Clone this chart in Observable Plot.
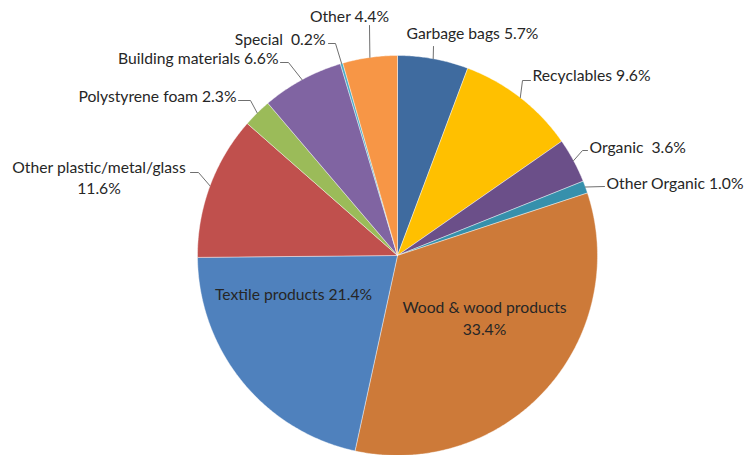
<!DOCTYPE html>
<html>
<head>
<meta charset="utf-8">
<script src="https://cdn.jsdelivr.net/npm/d3@7"></script>
<script src="https://cdn.jsdelivr.net/npm/@observablehq/plot@0.6"></script>
<style>
  html, body { margin: 0; padding: 0; background: #ffffff; }
  #chart svg { display: block; }
</style>
</head>
<body>
<div id="chart"></div>
<script>
// ---- Data ----
const categories = ["Garbage bags", "Recyclables", "Organic", "Other Organic", "Wood & wood products",
  "Textile products", "Other plastic/metal/glass", "Polystyrene foam", "Building materials", "Special", "Other"];
const shares = [5.7, 9.6, 3.6, 1.0, 33.4, 21.4, 11.6, 2.3, 6.6, 0.2, 4.4];
const labelSeparators = [" ", " ", "  ", " ", "\n", " ", "\n", " ", " ", "  ", " "];

// ---- Styles ----
const colors = ["#3F6B9F", "#FFC000", "#6B4F89", "#3690AC", "#CD7A39",
  "#4F81BD", "#C0504D", "#9BBB59", "#8064A2", "#4BACC6", "#F79646"];

// ---- Layout (pixels): label anchor, text alignment, leader elbows ----
const W = 745, H = 455, CX = 397, CY = 255, R = 200;
const labelLayout = [
  {tx: 406, ty: 32, anchor: "start", leader: [[433, 46]]},
  {tx: 532, ty: 74, anchor: "start", leader: [[522, 80], [530, 80]]},
  {tx: 589, ty: 146, anchor: "start", leader: [[582, 150], [587, 150]]},
  {tx: 606, ty: 182, anchor: "start", leader: [[604, 186]]},
  {tx: 484, ty: 316.5, anchor: "middle", leader: null},
  {tx: 293, ty: 293, anchor: "middle", leader: null},
  {tx: 98.5, ty: 176, anchor: "middle", leader: [[198, 172], [190, 172]]},
  {tx: 236, ty: 95, anchor: "end", leader: [[250, 100], [238, 100]]},
  {tx: 278, ty: 57, anchor: "end", leader: [[288, 62], [280, 62]]},
  {tx: 325, ty: 38, anchor: "end", leader: [[335, 43], [328, 43]]},
  {tx: 349, ty: 15, anchor: "middle", leader: [[369, 25]]}
];

// pixel -> data units (unit circle)
const toX = px => (px - CX) / R;
const toY = py => (CY - py) / R;

// ---- Pie geometry ----
const arcs = d3.pie().sort(null).value(d => d)(shares);
const slicePts = [];
arcs.forEach((a, i) => {
  const cat = categories[i];
  slicePts.push({cat, x: 0, y: 0});
  const n = Math.max(2, Math.ceil((a.endAngle - a.startAngle) / (Math.PI / 360)));
  for (let k = 0; k <= n; k++) {
    const t = a.startAngle + (a.endAngle - a.startAngle) * k / n;
    slicePts.push({cat, x: Math.sin(t), y: Math.cos(t)});
  }
  slicePts.push({cat, x: 0, y: 0});
});

// leaders
const leaderPts = [];
arcs.forEach((a, i) => {
  const L = labelLayout[i];
  if (!L.leader) return;
  const mid = (a.startAngle + a.endAngle) / 2;
  leaderPts.push({i, x: Math.sin(mid), y: Math.cos(mid)});
  L.leader.forEach(([px, py]) => leaderPts.push({i, x: toX(px), y: toY(py)}));
});

// labels
const labelRows = categories.map((c, i) => ({
  text: c + labelSeparators[i] + shares[i].toFixed(1) + "%",
  x: toX(labelLayout[i].tx),
  y: toY(labelLayout[i].ty),
  anchor: labelLayout[i].anchor
}));

const textStyle = {fontFamily: "Lato, 'Open Sans', sans-serif", fontSize: 15.7, fill: "#262626", lineHeight: 1.37};

const chart = Plot.plot({
  width: W,
  height: H,
  margin: 0,
  style: {background: "#ffffff", overflow: "visible"},
  x: {domain: [-1, 1], range: [CX - R, CX + R], axis: null},
  y: {domain: [-1, 1], range: [CY + R, CY - R], axis: null},
  color: {domain: categories, range: colors},
  marks: [
    Plot.line(slicePts, {x: "x", y: "y", z: "cat", fill: "cat", stroke: "#ffffff", strokeWidth: 0.6, strokeOpacity: 0.7, curve: "linear"}),
    Plot.line(leaderPts, {x: "x", y: "y", z: "i", stroke: "#6f6f6f", strokeWidth: 1, curve: "linear"}),
    Plot.text(labelRows.filter(d => d.anchor === "start"), {x: "x", y: "y", text: "text", textAnchor: "start", ...textStyle}),
    Plot.text(labelRows.filter(d => d.anchor === "middle"), {x: "x", y: "y", text: "text", textAnchor: "middle", ...textStyle}),
    Plot.text(labelRows.filter(d => d.anchor === "end"), {x: "x", y: "y", text: "text", textAnchor: "end", ...textStyle})
  ]
});
document.getElementById("chart").appendChild(chart);
</script>
</body>
</html>
